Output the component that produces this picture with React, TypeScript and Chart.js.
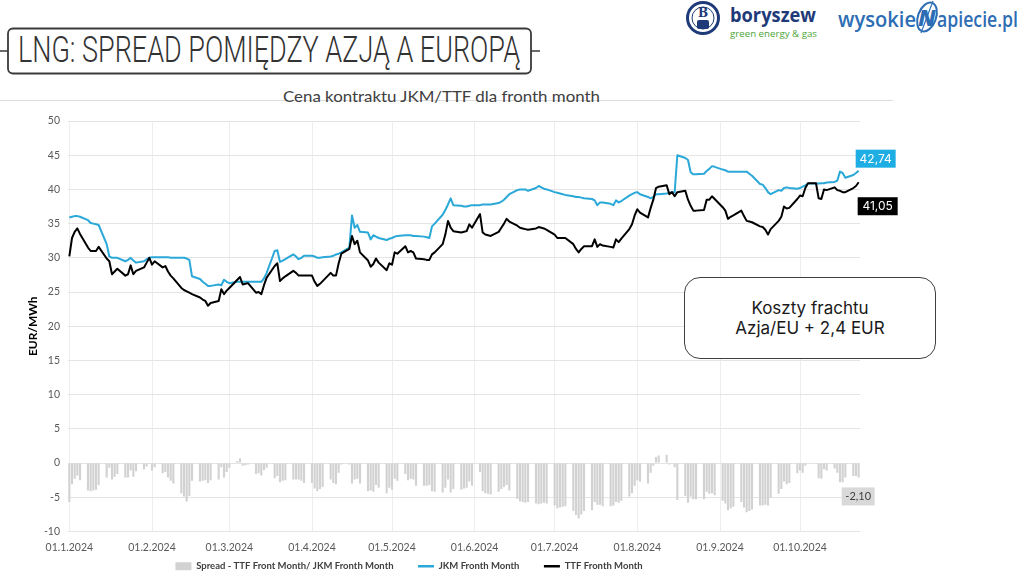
import React, { useEffect, useRef } from 'react';
import { Chart, registerables } from 'chart.js';

Chart.register(...registerables);

// ---------- texts ----------
const headerTitle = 'LNG: SPREAD POMIĘDZY AZJĄ A EUROPĄ';
const chartTitle = 'Cena kontraktu JKM/TTF dla fronth month';
const yAxisTitle = 'EUR/MWh';
const seriesNames = ['Spread - TTF Front Month/ JKM Fronth Month', 'JKM Fronth Month', 'TTF Fronth Month'];
const noteLines = ['Koszty frachtu', 'Azja/EU + 2,4 EUR'];

// first trading day of the series (Mon 1 Jan 2024); values below are business days Mon–Fri
const firstDay = [2024, 1, 1];

// y axis
const yMin = -10;
const yMax = 50;
const yStep = 5;

// JKM front month, EUR/MWh (one row = one week, Mon..Fri)
const jkm = [
  35.9, 36.0, 36.1, 36.1, 36.0,
  35.5, 35.1, 35.0, 34.9, 34.8,
  32.0, 30.2, 30.0, 30.0, 30.0,
  29.5, 29.7, 30.0, 29.6, 29.3,
  29.5, 29.8, 30.0, 30.1, 30.1,
  30.1, 30.1, 30.1, 30.0, 30.0,
  30.0, 30.0, 29.9, 29.7, 27.3,
  26.9, 26.5, 26.2, 25.9, 25.9,
  26.1, 26.0, 26.8, 26.5, 26.3,
  26.5, 26.5, 26.5, 26.5, 26.5,
  26.5, 26.5, 26.5, 27.0, 27.8,
  31.0, 31.1, 29.4, 29.6, 29.8,
  30.5, 30.2, 29.8, 30.0, 30.3,
  30.3, 30.2, 30.0, 30.0, 30.1,
  30.2, 30.3, 30.5, 30.6, 30.8,
  31.5, 36.2, 34.4, 34.8, 33.8,
  33.7, 32.7, 33.3, 33.1, 32.9,
  32.6, 32.8, 32.9, 33.1, 33.2,
  33.3, 33.3, 33.3, 33.2, 33.2,
  33.1, 33.0, 32.9, 34.6, 35.0,
  36.3, 37.0, 37.8, 38.7, 37.7,
  37.6, 37.5, 37.5, 37.6, 37.7,
  37.7, 37.8, 37.8, 37.8, 37.8,
  38.0, 38.2, 38.5, 38.9, 39.3,
  39.9, 40.0, 40.0, 40.0, 39.8,
  40.2, 40.5, 40.3, 40.1, 40.0,
  39.6, 39.5, 39.4, 39.3, 39.2,
  39.0, 38.9, 38.9, 38.8, 38.7,
  38.6, 38.4, 37.7, 38.1, 38.1,
  37.9, 37.7, 38.4, 38.1, 38.3,
  39.1, 39.3, 39.5, 39.6, 39.3,
  38.9, 38.7, 38.9, 39.3, 39.3,
  39.4, 39.5, 39.6, 39.6, 45.0,
  44.6, 44.3, 42.5, 42.2, 42.2,
  42.3, 42.7, 43.0, 43.4, 43.3,
  42.9, 42.8, 42.6, 42.6, 42.6,
  42.6, 42.6, 42.6, 42.3, 42.0,
  40.8, 40.7, 40.2, 39.6, 39.3,
  39.9, 39.8, 40.2, 40.3, 40.2,
  40.1, 40.2, 40.4, 40.6, 40.85,
  40.85, 40.85, 40.9, 40.9, 41.0,
  41.1, 41.3, 42.6, 42.4, 41.7,
  42.1, 42.4, 42.74,
];

// TTF front month, EUR/MWh
const ttf = [
  30.2, 32.9, 33.8, 34.3, 33.5,
  31.5, 31.0, 31.0, 31.0, 31.6,
  29.9, 29.5, 27.6, 28.0, 28.4,
  27.4, 27.6, 28.9, 27.6, 28.1,
  28.6, 29.3, 30.0, 29.0, 29.5,
  28.6, 28.8, 28.0, 27.4, 27.0,
  25.6, 25.3, 25.1, 24.9, 24.7,
  24.2, 23.9, 23.7, 23.0, 23.4,
  23.7, 25.4, 24.7, 25.2, 25.6,
  26.8, 27.2, 26.1, 26.2, 26.3,
  24.9, 25.0, 24.7, 26.0, 27.1,
  28.8, 29.2, 26.6, 27.0, 27.3,
  28.1, 27.8, 27.4, 27.4, 27.4,
  27.4, 26.5, 25.9, 26.2, 26.6,
  27.8, 27.4, 27.4, 29.2, 30.6,
  31.3, 33.2, 32.0, 32.5, 30.8,
  29.6, 28.7, 29.1, 29.9, 29.3,
  28.2, 29.2, 29.0, 30.8, 30.6,
  31.7, 30.8, 31.0, 30.8, 29.9,
  29.8, 29.7, 29.7, 30.5, 30.8,
  32.0, 33.4, 35.4, 34.4, 33.9,
  33.7, 33.8, 33.9, 34.9, 34.4,
  36.4, 33.7, 33.4, 33.3, 33.2,
  33.8, 34.4, 35.0, 35.7, 35.3,
  34.7, 34.4, 34.3, 34.2, 34.1,
  34.3, 34.5, 34.4, 34.3, 34.1,
  33.4, 32.9, 32.9, 32.9, 32.9,
  32.0, 31.3, 30.8, 31.3, 31.7,
  31.7, 32.7, 31.6, 32.0, 31.8,
  31.6, 31.5, 32.7, 32.3, 32.8,
  34.2, 34.9, 36.2, 37.1, 36.6,
  35.9, 37.3, 38.5, 40.2, 40.4,
  40.6, 39.3, 39.6, 39.0, 39.6,
  39.8, 38.5, 37.6, 36.9, 36.9,
  37.0, 38.5, 38.5, 39.0, 38.6,
  37.4, 36.9, 35.7, 36.0, 36.2,
  36.9, 36.1, 35.4, 35.3, 35.2,
  34.6, 34.5, 34.1, 33.4, 34.2,
  35.4, 36.0, 37.5, 37.2, 37.3,
  38.6, 39.1, 39.0, 40.2, 40.9,
  40.9, 38.7, 38.6, 40.0, 39.9,
  40.3, 39.9, 39.8, 39.6, 39.6,
  40.2, 40.5, 41.05,
];

// Spread TTF - JKM, EUR/MWh
const spread = [
  -5.7, -3.1, -2.3, -1.8, -2.5,
  -4.0, -4.1, -4.0, -3.9, -3.2,
  -2.1, -0.7, -2.4, -2.0, -1.6,
  -2.1, -2.1, -1.1, -2.0, -1.2,
  -0.9, -0.5, -0.1, -1.1, -0.6,
  -1.5, -1.3, -2.1, -2.6, -3.0,
  -4.4, -4.9, -5.6, -4.8, -2.6,
  -2.7, -2.6, -2.5, -2.9, -2.5,
  -2.4, -0.6, -2.1, -1.3, -0.7,
  0.3, 0.7, -0.4, -0.3, -0.2,
  -1.6, -1.5, -1.8, -1.0, -0.7,
  -2.2, -1.9, -2.8, -2.6, -2.5,
  -2.4, -2.4, -2.4, -2.6, -2.9,
  -2.9, -3.7, -4.1, -3.8, -3.5,
  -2.4, -2.9, -3.1, -1.4, -0.2,
  -0.2, -3.0, -2.4, -2.3, -3.0,
  -4.1, -4.0, -4.2, -3.2, -3.6,
  -4.4, -3.6, -3.9, -2.3, -2.6,
  -1.6, -2.5, -2.3, -2.4, -3.3,
  -3.3, -3.3, -3.2, -4.1, -4.2,
  -4.3, -3.6, -2.4, -4.3, -3.8,
  -3.9, -3.7, -3.6, -2.7, -3.3,
  -1.3, -4.1, -4.4, -4.5, -4.6,
  -4.2, -3.8, -3.5, -3.2, -4.0,
  -5.2, -5.6, -5.7, -5.8, -5.7,
  -5.9, -6.0, -5.9, -5.8, -5.9,
  -6.2, -6.6, -6.5, -6.4, -6.3,
  -7.0, -7.6, -8.1, -7.5, -7.0,
  -6.9, -5.7, -6.1, -6.1, -6.3,
  -6.3, -6.2, -5.7, -5.8, -5.5,
  -4.9, -4.4, -3.3, -2.5, -2.7,
  -3.0, -1.4, -0.4, 0.9, 1.1,
  1.2, -0.2, -0.1, -0.6, -5.4,
  -4.8, -5.8, -4.9, -5.3, -5.3,
  -5.3, -4.2, -4.5, -4.4, -4.7,
  -5.5, -5.9, -6.9, -6.6, -6.4,
  -5.7, -6.5, -7.2, -7.0, -6.8,
  -6.2, -6.2, -6.1, -6.2, -5.1,
  -4.5, -3.8, -2.7, -3.1, -2.9,
  -1.5, -1.1, -1.4, -0.4, 0.1,
  0.1, -2.2, -2.3, -0.9, -1.1,
  -0.8, -1.4, -2.8, -2.8, -2.1,
  -1.9, -1.9, -2.10,
];

// ---------- helpers ----------
function buildCalendar() {
  const labels: string[] = [];
  const idx: (number | null)[] = [];
  const d = new Date(firstDay[0], firstDay[1] - 1, firstDay[2]);
  let k = 0;
  while (k < jkm.length) {
    const wd = d.getDay();
    labels.push(`${String(d.getDate()).padStart(2, '0')}.${d.getMonth() + 1}.${d.getFullYear()}`);
    if (wd !== 0 && wd !== 6) {
      idx.push(k);
      k++;
    } else {
      idx.push(null);
    }
    d.setDate(d.getDate() + 1);
  }
  return { labels, idx };
}

const JKM_COLOR = '#2aa8d8';
const TTF_COLOR = '#000000';
const SPREAD_COLOR = '#d2d2d2';
const LEGEND_GAP = '        ';

const endLabelPlugin = {
  id: 'endLabels',
  afterDatasetsDraw(chart: any) {
    const { ctx } = chart;
    const specs = [
      { ds: 1, bg: '#1eaee4', fg: '#ffffff', dx: -3, dy: -21, w: 40, h: 18, font: '12px Inter' },
      { ds: 2, bg: '#000000', fg: '#ffffff', dx: -1, dy: 15, w: 40, h: 18, font: '12px Inter' },
      { ds: 0, bg: '#d9d9d9', fg: '#404040', dx: -17, dy: 10, w: 33, h: 18, font: '11px Lato' },
    ];
    specs.forEach((s) => {
      const meta = chart.getDatasetMeta(s.ds);
      const data = chart.data.datasets[s.ds].data as (number | null)[];
      let i = data.length - 1;
      while (i >= 0 && data[i] == null) i--;
      const el = meta.data[i];
      if (!el) return;
      const text = Number(data[i]).toFixed(2).replace('.', ',');
      const x = el.x + s.dx;
      const y = el.y + s.dy;
      ctx.save();
      ctx.fillStyle = s.bg;
      ctx.fillRect(x, y, s.w, s.h);
      ctx.fillStyle = s.fg;
      ctx.font = s.font;
      ctx.textAlign = 'center';
      ctx.textBaseline = 'middle';
      ctx.fillText(text, x + s.w / 2, y + s.h / 2 + 0.5);
      ctx.restore();
    });
  },
};

const CANVAS_LEFT = -42;
const CANVAS_TOP = 100;
const CANVAS_W = 942;
const CANVAS_H = 481;

export default function App() {
  const ref = useRef<HTMLCanvasElement>(null);

  useEffect(() => {
    if (!ref.current) return;
    const { labels, idx } = buildCalendar();
    const onCal = (arr: number[]) => idx.map((i) => (i === null ? null : arr[i]));

    const chart = new Chart(ref.current, {
      type: 'bar',
      data: {
        labels,
        datasets: [
          {
            type: 'bar',
            label: seriesNames[0],
            data: onCal(spread),
            backgroundColor: SPREAD_COLOR,
            borderWidth: 0,
            barPercentage: 0.8,
            categoryPercentage: 1,
            order: 3,
          } as any,
          {
            type: 'line',
            label: seriesNames[1],
            data: onCal(jkm),
            borderColor: JKM_COLOR,
            backgroundColor: JKM_COLOR,
            borderWidth: 2,
            pointRadius: 0,
            spanGaps: true,
            tension: 0,
            borderJoinStyle: 'round',
            order: 2,
          } as any,
          {
            type: 'line',
            label: seriesNames[2],
            data: onCal(ttf),
            borderColor: TTF_COLOR,
            backgroundColor: TTF_COLOR,
            borderWidth: 2,
            pointRadius: 0,
            spanGaps: true,
            tension: 0,
            borderJoinStyle: 'round',
            order: 1,
          } as any,
        ],
      },
      options: {
        responsive: false,
        animation: false,
        layout: { padding: { top: 21, right: 40, bottom: 0, left: 0 } },
        plugins: {
          tooltip: { enabled: false },
          title: { display: false },
          legend: {
            position: 'bottom',
            labels: {
              usePointStyle: true,
              pointStyleWidth: 16,
              boxHeight: 8,
              padding: 6,
              color: '#404040',
              font: { family: 'Lato', size: 9.5, weight: 'bold' },
              sort: (a: any, b: any) => a.datasetIndex - b.datasetIndex,
              generateLabels(c: any) {
                const items = (Chart.defaults.plugins.legend.labels as any).generateLabels(c);
                return items.map((it: any) => {
                  const isBar = it.datasetIndex === 0;
                  return {
                    ...it,
                    text: it.datasetIndex < 2 ? it.text + LEGEND_GAP : it.text,
                    pointStyle: isBar ? 'rect' : 'line',
                    lineWidth: isBar ? 0 : 2.5,
                  };
                });
              },
            },
          },
        },
        scales: {
          x: {
            offset: true,
            grid: { color: '#eeeeee', offset: false, drawTicks: false },
            border: { display: false },
            ticks: {
              autoSkip: false,
              maxRotation: 0,
              minRotation: 0,
              padding: 10,
              color: '#595959',
              font: { family: 'Lato', size: 10.5 },
              callback(this: any, v: any) {
                const l = this.getLabelForValue(v);
                return l.startsWith('01.') ? l : null;
              },
            },
            afterFit(s: any) {
              s.height = 24;
            },
          },
          y: {
            min: yMin,
            max: yMax,
            ticks: {
              stepSize: yStep,
              padding: 8,
              color: '#595959',
              font: { family: 'Lato', size: 10.5 },
            },
            grid: { color: '#e4e4e4', drawTicks: false },
            border: { display: false },
            title: {
              display: true,
              text: yAxisTitle,
              color: '#000000',
              font: { family: 'Lato', size: 12, weight: 'bold' },
              padding: { top: 68, bottom: 0 },
            },
            afterFit(s: any) {
              s.width = 68 - CANVAS_LEFT;
            },
          },
        },
      } as any,
      plugins: [endLabelPlugin],
    });
    return () => chart.destroy();
  }, []);

  return (
    <div
      style={{
        position: 'fixed',
        left: 0,
        top: 0,
        width: 1024,
        height: 588,
        overflow: 'hidden',
        background: '#ffffff',
      }}
    >
      <svg width={1024} height={110} style={{ position: 'absolute', left: 0, top: 0 }}>
        {/* header box */}
        <line x1={0} y1={51} x2={8} y2={51} stroke="#3a3a3a" strokeWidth={1.5} />
        <line x1={531} y1={51} x2={540} y2={51} stroke="#3a3a3a" strokeWidth={1.5} />
        <rect x={8} y={28.5} width={523} height={45} rx={5} fill="#ffffff" stroke="#3a3a3a" strokeWidth={1.8} />
        <text
          x={18}
          y={62}
          fontFamily="Roboto"
          fontWeight={300}
          fontSize={37}
          fill="#333333"
          textLength={502}
          lengthAdjust="spacingAndGlyphs"
        >
          {headerTitle}
        </text>

        {/* boryszew logo */}
        <circle cx={703} cy={18} r={15.5} fill="#ffffff" stroke="#1e3a78" strokeWidth={3} />
        <circle cx={703} cy={18} r={11} fill="none" stroke="#1e3a78" strokeWidth={1} />
        <text x={703} y={17} textAnchor="middle" fontFamily="DejaVu Serif" fontWeight={700} fontSize={12} fill="#1e3a78">B</text>
        <rect x={697} y={20} width={12} height={9} rx={2} fill="#1e3a78" />
        <text x={730} y={22} fontFamily="Open Sans" fontWeight={700} fontSize={19} fill="#1e3a78" textLength={86} lengthAdjust="spacingAndGlyphs">boryszew</text>
        <text x={730} y={37} fontFamily="Open Sans" fontSize={9.5} fill="#4ea43a" textLength={87} lengthAdjust="spacingAndGlyphs">green energy &amp; gas</text>

        {/* wysokienapiecie logo */}
        <text x={838} y={27} fontFamily="Open Sans" fontWeight={600} fontSize={22} fill="#2d6db4" textLength={78} lengthAdjust="spacingAndGlyphs">wysokie</text>
        <ellipse cx={927} cy={17} rx={9} ry={15} transform="rotate(20 927 17)" fill="none" stroke="#2d6db4" strokeWidth={2} />
        <text x={927} y={26} textAnchor="middle" fontFamily="Open Sans" fontWeight={800} fontStyle="italic" fontSize={22} fill="#2d6db4">N</text>
        <line x1={933} y1={1} x2={921} y2={33} stroke="#2d6db4" strokeWidth={1.2} />
        <text x={937} y={27} fontFamily="Open Sans" fontWeight={600} fontSize={22} fill="#2d6db4" textLength={81} lengthAdjust="spacingAndGlyphs">apiecie.pl</text>

        {/* chart frame top line and title */}
        <line x1={0} y1={100.5} x2={893} y2={100.5} stroke="#dedede" strokeWidth={1} />
        <text
          x={283}
          y={102}
          fontFamily="Lato"
          fontSize={16}
          fill="#404040"
          textLength={317}
          lengthAdjust="spacingAndGlyphs"
        >
          {chartTitle}
        </text>
      </svg>

      <canvas
        ref={ref}
        width={CANVAS_W}
        height={CANVAS_H}
        style={{ position: 'absolute', left: CANVAS_LEFT, top: CANVAS_TOP, width: CANVAS_W, height: CANVAS_H }}
      />

      <div
        style={{
          position: 'absolute',
          left: 684,
          top: 277,
          width: 252,
          height: 82,
          boxSizing: 'border-box',
          border: '1.5px solid #3f3f3f',
          borderRadius: 16,
          background: '#ffffff',
          display: 'flex',
          flexDirection: 'column',
          alignItems: 'center',
          justifyContent: 'center',
          fontFamily: 'Inter, sans-serif',
          fontSize: 17,
          lineHeight: '20px',
          color: '#1a1a1a',
        }}
      >
        {noteLines.map((t) => (
          <div key={t}>{t}</div>
        ))}
      </div>
    </div>
  );
}
